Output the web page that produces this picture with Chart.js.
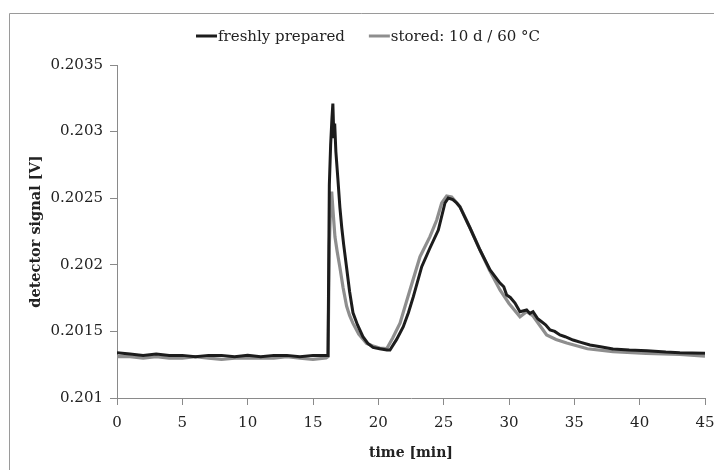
<!DOCTYPE html>
<html>
<head>
<meta charset="utf-8">
<script src="https://cdn.jsdelivr.net/npm/chart.js@4.4.1/dist/chart.umd.min.js"></script>
<style>
  html, body { margin:0; padding:0; background:#fff; }
  #wrap { width:714px; height:470px; position:relative; }
</style>
</head>
<body>
<div id="wrap"><canvas id="c" width="714" height="470"></canvas></div>
<script>
'use strict';

const seriesLabels = ['freshly prepared', 'stored: 10 d / 60 \u00B0C'];
const seriesColors = ['#1c1c1c', '#8e8e8e'];

const freshTime = [0,1,2,3,4,5,6,7,8,9,10,11,12,13,14,15,16,16.15,
  16.25,16.35,16.45,16.52,16.6,16.66,16.75,16.9,17.06,17.2,17.35,17.57,17.8,18.06,18.4,18.82,19.2,19.59,20.1,20.66,20.89,
  21.4,21.91,22.3,22.68,23.32,23.95,24.59,25.1,25.35,25.7,26.0,26.24,27.0,27.78,28.55,29.31,29.6,29.82,30.1,30.46,30.84,31.35,31.6,31.84,
  32.2,32.5,32.8,33.14,33.5,33.9,34.3,34.9,35.5,36.2,37.0,37.96,39.2,40.56,42.0,43.08,44.0,45];
const freshSignal = [0.20134,0.20133,0.20132,0.20133,0.20132,0.20132,0.20131,0.20132,0.20132,0.20131,0.20132,0.20131,0.20132,0.20132,0.20131,0.20132,0.20132,0.20132,
  0.20260,0.20290,0.20310,0.20321,0.20295,0.20306,0.20285,0.20265,0.20243,0.20228,0.20215,0.20198,0.20180,0.20164,0.20155,0.20146,0.20141,0.20138,0.20137,0.20136,0.20136,
  0.20144,0.201535,0.20164,0.201761,0.201986,0.202126,0.202261,0.202464,0.202501,0.20249,0.202464,0.202436,0.20228,0.202111,0.201961,0.201863,0.201835,0.201773,0.201755,0.201713,0.201648,0.201661,0.201635,0.201648,
  0.201595,0.201573,0.20155,0.201511,0.2015,0.201473,0.20146,0.201435,0.201418,0.201398,0.201385,0.201368,0.20136,0.201355,0.201345,0.20134,0.201338,0.201336];

const storedTime = [0,1,2,3,4,5,6,7,8,9,10,11,12,13,14,15,16,16.15,
  16.25,16.35,16.43,16.55,16.68,16.85,17.06,17.3,17.57,17.8,18.06,18.5,19.1,19.6,20.1,20.64,
  21.1,21.66,22.42,23.19,23.95,24.47,24.85,25.23,25.61,26.25,27.0,27.78,28.5,29.31,30.0,30.84,31.35,31.84,
  32.88,33.6,34.42,36.0,37.96,40.5,43.08,45];
const storedSignal = [0.20131,0.20131,0.20130,0.20131,0.20130,0.20130,0.20131,0.20130,0.20129,0.20130,0.20130,0.20130,0.20130,0.20131,0.20130,0.20129,0.20130,0.20131,
  0.20215,0.20245,0.20255,0.20238,0.20221,0.20210,0.20198,0.20183,0.20169,0.20162,0.20156,0.20148,0.20141,0.20139,0.201375,0.20137,
  0.20145,0.201561,0.201811,0.202061,0.202211,0.202336,0.202464,0.202517,0.202509,0.202436,0.20228,0.202111,0.20196,0.201811,0.20171,0.20161,0.201648,0.201616,
  0.201473,0.20144,0.201413,0.20137,0.201348,0.201335,0.201327,0.201315];

const xTicks = [0,5,10,15,20,25,30,35,40,45];
const yTicks = [0.201,0.2015,0.202,0.2025,0.203,0.2035];

const FONT = '"DejaVu Serif", "Liberation Serif", serif';
const TXT = '#222';

const toPts = (xs, ys) => xs.map((x, i) => ({ x, y: ys[i] }));

const framePlugin = {
  id: 'frame',
  beforeDraw(chart) {
    const ctx = chart.ctx;
    ctx.save();
    ctx.strokeStyle = '#9a9a9a';
    ctx.lineWidth = 1;
    ctx.beginPath();
    ctx.moveTo(9.5, 470); ctx.lineTo(9.5, 13.5); ctx.lineTo(714, 13.5);
    ctx.stroke();
    ctx.restore();
  }
};

const legendPlugin = {
  id: 'miniLegend',
  afterDraw(chart) {
    const ctx = chart.ctx;
    ctx.save();
    ctx.font = '15px ' + FONT;
    ctx.textBaseline = 'middle';
    const sw = 21, gap = 1, between = 24;
    const widths = seriesLabels.map(t => ctx.measureText(t).width);
    const total = widths.reduce((a, w) => a + sw + gap + w, 0) + between;
    let x = 368 - total / 2;
    const y = 36;
    seriesLabels.forEach((t, i) => {
      ctx.strokeStyle = seriesColors[i];
      ctx.lineWidth = 3;
      ctx.beginPath(); ctx.moveTo(x, y); ctx.lineTo(x + sw, y); ctx.stroke();
      ctx.fillStyle = TXT;
      ctx.fillText(t, x + sw + gap, y + 1);
      x += sw + gap + widths[i] + between;
    });
    ctx.restore();
  }
};

new Chart(document.getElementById('c').getContext('2d'), {
  type: 'line',
  data: {
    datasets: [
      { label: seriesLabels[0], data: toPts(freshTime, freshSignal), borderColor: seriesColors[0], borderWidth: 3, pointRadius: 0, tension: 0, fill: false },
      { label: seriesLabels[1], data: toPts(storedTime, storedSignal), borderColor: seriesColors[1], borderWidth: 3.2, pointRadius: 0, tension: 0, fill: false }
    ]
  },
  options: {
    responsive: false, animation: false,
    layout: { autoPadding: false, padding: { top: 65, right: 9, left: 0, bottom: 0 } },
    plugins: { legend: { display: false }, tooltip: { enabled: false } },
    scales: {
      x: {
        type: 'linear', min: 0, max: 45,
        afterFit(s) { s.height = 72; s.paddingLeft = 0; s.paddingRight = 0; },
        afterBuildTicks(s) { s.ticks = xTicks.map(v => ({ value: v })); },
        grid: { drawOnChartArea: false, drawTicks: true, tickLength: 7, color: '#8a8a8a' },
        border: { color: '#8a8a8a', width: 1 },
        ticks: { color: TXT, font: { family: FONT, size: 15 }, padding: 9, maxRotation: 0 },
        title: { display: true, text: 'time [min]', color: TXT, font: { family: FONT, size: 14, weight: 'bold' }, padding: { top: 0, bottom: 8 } }
      },
      y: {
        min: 0.201, max: 0.2035,
        afterFit(s) { s.width = 117; s.paddingTop = 0; s.paddingBottom = 0; },
        afterBuildTicks(s) { s.ticks = yTicks.map(v => ({ value: v })); },
        grid: { drawOnChartArea: false, drawTicks: true, tickLength: 7, color: '#8a8a8a' },
        border: { color: '#8a8a8a', width: 1 },
        ticks: { color: TXT, font: { family: FONT, size: 15 }, padding: 7, callback: v => String(+v.toFixed(4)) },
        title: { display: true, text: 'detector signal [V]', color: TXT, font: { family: FONT, size: 14.5, weight: 'bold' }, padding: { top: 28, bottom: 0 } }
      }
    }
  },
  plugins: [framePlugin, legendPlugin]
});
</script>
</body>
</html>
